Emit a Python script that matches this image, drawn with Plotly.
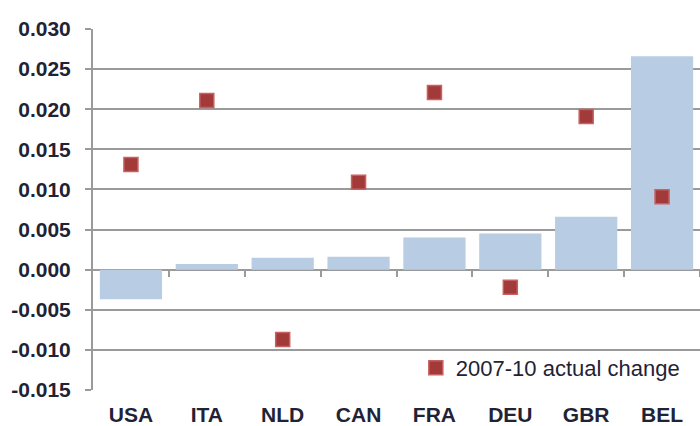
import plotly.graph_objects as go

categories = ["USA", "ITA", "NLD", "CAN", "FRA", "DEU", "GBR", "BEL"]
bar_values = [-0.0037, 0.0007, 0.0015, 0.0016, 0.0040, 0.0045, 0.0066, 0.0266]
actual_change = [0.0131, 0.0211, -0.0087, 0.0109, 0.0221, -0.0022, 0.0191, 0.0091]
y_ticks = [-0.015, -0.010, -0.005, 0.000, 0.005, 0.010, 0.015, 0.020, 0.025, 0.030]
y_tick_labels = ["-0.015", "-0.010", "-0.005", "0.000", "0.005", "0.010", "0.015", "0.020", "0.025", "0.030"]
boundaries = [0.5, 1.5, 2.5, 3.5, 4.5, 5.5, 6.5, 7.5]

grid_color = "#9a9a9a"
font_family = "Liberation Sans, Arial, sans-serif"
text_color = "#1f2336"

fig = go.Figure()
fig.add_trace(go.Bar(
    x=categories, y=bar_values,
    marker=dict(color="#b8cce4", line=dict(width=0)),
    width=0.82, showlegend=False, hoverinfo="skip",
))
fig.add_trace(go.Scatter(
    x=categories, y=actual_change, mode="markers",
    name="2007-10 actual change",
    marker=dict(symbol="square", size=14, color="#a33a3a",
                line=dict(color="#c86060", width=1.5)),
))

fig.update_layout(
    width=700, height=426,
    margin=dict(l=93, r=0, t=29, b=36, autoexpand=False),
    paper_bgcolor="white", plot_bgcolor="white",
    font=dict(family=font_family, color=text_color),
    legend=dict(
        x=0.975, y=0.061, xanchor="right", yanchor="middle",
        bgcolor="rgba(255,255,255,0)",
        font=dict(size=22, color=text_color, family=font_family),
        itemwidth=30,
        tracegroupgap=0,
    ),
    xaxis=dict(
        type="category", range=[-0.5, 7.5], automargin=False,
        showgrid=False, showline=False, ticks="",
        tickfont=dict(size=21, color=text_color, family=font_family, weight="bold"),
        ticklabelstandoff=10,
    ),
    xaxis2=dict(
        type="linear", range=[-0.5, 7.5], overlaying="x",
        anchor="free", position=1/3, automargin=False,
        showgrid=False, showline=False, zeroline=False,
        tickvals=boundaries, ticks="outside", ticklen=6, tickwidth=2,
        tickcolor=grid_color, showticklabels=False,
    ),
    yaxis=dict(
        range=[-0.015, 0.030], automargin=False,
        tickvals=y_ticks, ticktext=y_tick_labels,
        showgrid=True, gridcolor=grid_color, gridwidth=2,
        zeroline=True, zerolinecolor=grid_color, zerolinewidth=2,
        showline=True, linecolor=grid_color, linewidth=2,
        ticks="outside", ticklen=6, tickwidth=2, tickcolor=grid_color,
        tickfont=dict(size=21, color=text_color, family=font_family, weight="bold"),
        ticklabelstandoff=10,
    ),
)
# invisible trace so the zero-line tick axis is drawn
fig.add_trace(go.Scatter(x=[-0.5], y=[0], xaxis="x2", mode="markers",
                         marker=dict(opacity=0), showlegend=False, hoverinfo="skip"))

fig.write_html("out.html", config={"displayModeBar": False},
               post_script="document.body.style.margin='0';")
